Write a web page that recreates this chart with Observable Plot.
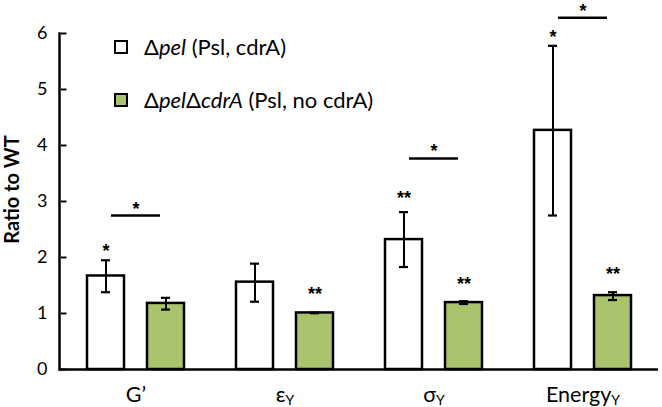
<!DOCTYPE html>
<html><head><meta charset="utf-8">
<script src="https://cdn.jsdelivr.net/npm/d3@7"></script>
<script src="https://cdn.jsdelivr.net/npm/@observablehq/plot@0.6"></script>
<style>
body{margin:0;background:#fff;font-family:Lato,sans-serif;color:#000}
#wrap{position:relative;width:662px;height:407px}
.legend{position:absolute;left:114px;top:0;font-family:Lato,sans-serif;font-size:22px;color:#000}
.row{position:absolute;left:0;white-space:nowrap;display:flex;align-items:center}
.sw{display:inline-block;width:10px;height:10px;border:2.2px solid #000;margin-right:16px}
</style></head><body><div id="wrap"></div>
<script>
const groups = ["G’", "ε", "σ", "Energy"];
const subs = ["", "Y", "Y", "Y"];
const series = ["Δpel (Psl, cdrA)", "ΔpelΔcdrA (Psl, no cdrA)"];
const colors = ["#ffffff", "#a9c46c"];
const pelMean = [1.67, 1.56, 2.32, 4.27];
const pelLo = [1.38, 1.21, 1.83, 2.75];
const pelHi = [1.95, 1.89, 2.81, 5.78];
const cdrMean = [1.18, 1.01, 1.195, 1.32];
const cdrLo = [1.07, 1.005, 1.17, 1.24];
const cdrHi = [1.28, 1.015, 1.22, 1.38];
const pelStars = ["*", "", "**", "*"];
const pelStarY = [2.2, null, 3.15, 6.02];
const cdrStars = ["", "**", "**", "**"];
const cdrStarY = [null, 1.43, 1.61, 1.79];
const bracketY = [2.75, null, 3.77, 6.28];
const bracketStars = ["*", "", "*", "*"];
const bracketStarY = [2.96, null, 3.98, 6.49];
const yTicks = [0, 1, 2, 3, 4, 5, 6];
const yLabel = "Ratio to WT";

const rows = (mean, lo, hi, stars, starY, s) => groups.map((g, i) => ({
  group: g, series: series[s], mean: mean[i], lo: lo[i], hi: hi[i], star: stars[i], starY: starY[i]
}));
const pel = rows(pelMean, pelLo, pelHi, pelStars, pelStarY, 0);
const cdr = rows(cdrMean, cdrLo, cdrHi, cdrStars, cdrStarY, 1);
const brackets = groups.map((g, i) => ({group: g, y: bracketY[i], star: bracketStars[i], starY: bracketStarY[i]})).filter(d => d.y != null);

const starFont = {fontFamily: "Liberation Sans, sans-serif", fontSize: 18, fontWeight: "bold", fill: "#000", dy: 5};

const seriesMarks = (data, dx) => [
  Plot.barY(data, {x: "group", y: "mean", fill: "series", stroke: "#000", strokeWidth: 2.5, dx, insetLeft: 56, insetRight: 56}),
  Plot.ruleX(data, {x: "group", y1: "lo", y2: "hi", dx, stroke: "#000", strokeWidth: 2}),
  Plot.tickY(data, {x: "group", y: "lo", dx, insetLeft: 70, insetRight: 70, stroke: "#000", strokeWidth: 2.2}),
  Plot.tickY(data, {x: "group", y: "hi", dx, insetLeft: 70, insetRight: 70, stroke: "#000", strokeWidth: 2.2}),
  Plot.text(data.filter(d => d.star), {x: "group", y: "starY", text: "star", dx, ...starFont})
];

const chart = Plot.plot({
  width: 662, height: 407,
  marginLeft: 59, marginRight: 4, marginTop: 33, marginBottom: 38,
  style: {fontFamily: "Lato, sans-serif", color: "#000", background: "#fff", overflow: "visible"},
  x: {domain: groups, padding: 0, axis: null},
  y: {domain: [0, 6], axis: null},
  color: {domain: series, range: colors},
  marks: [
    ...seriesMarks(pel, -30),
    ...seriesMarks(cdr, 30),
    Plot.tickY(brackets, {x: "group", y: "y", insetLeft: 50, insetRight: 50, stroke: "#000", strokeWidth: 2.5}),
    Plot.text(brackets, {x: "group", y: "starY", text: "star", ...starFont}),
    Plot.ruleY([0], {stroke: "#000", strokeWidth: 2.5}),
    Plot.frame({anchor: "left", stroke: "#000", strokeWidth: 2.5}),
    Plot.tickY(yTicks, {y: d => d, x: () => groups[0], insetLeft: 0, insetRight: 143.5, stroke: "#000", strokeWidth: 2}),
    Plot.axisY(yTicks, {tickSize: 0, tickPadding: 12, fontSize: 18, tickFormat: d => String(d), label: yLabel, labelAnchor: "center", labelOffset: 55}),
    Plot.axisX({tickSize: 0, tickPadding: 17, fontSize: 21.5, label: null})
  ]
});

const svg = d3.select(chart.tagName === "svg" ? chart : chart.querySelector("svg"));
svg.selectAll('[aria-label="x-axis tick label"] text').each(function () {
  const el = d3.select(this);
  const t = el.text();
  const i = groups.indexOf(t);
  if (i >= 0 && subs[i]) {
    el.text(null);
    el.append("tspan").text(t);
    el.append("tspan").attr("font-size", 14).attr("dy", "0.25em").text(subs[i]);
  }
});
svg.selectAll('[aria-label="y-axis label"] text')
  .text(yLabel).attr("font-size", 20).attr("font-weight", "bold").attr("dx", 12);

const wrap = document.getElementById("wrap");
wrap.appendChild(chart);
const legend = document.createElement("div");
legend.className = "legend";
const legendHtml = [
  'Δ<i>pel</i> (Psl, cdrA)',
  'Δ<i>pel</i>Δ<i>cdrA</i> (Psl, no cdrA)'
];
const legendTop = [33, 86];
series.forEach((s, i) => {
  const r = document.createElement("div");
  r.className = "row";
  r.style.top = legendTop[i] + "px";
  r.innerHTML = `<span class="sw" style="background:${colors[i]}"></span><span>${legendHtml[i]}</span>`;
  legend.appendChild(r);
});
wrap.appendChild(legend);
</script></body></html>
